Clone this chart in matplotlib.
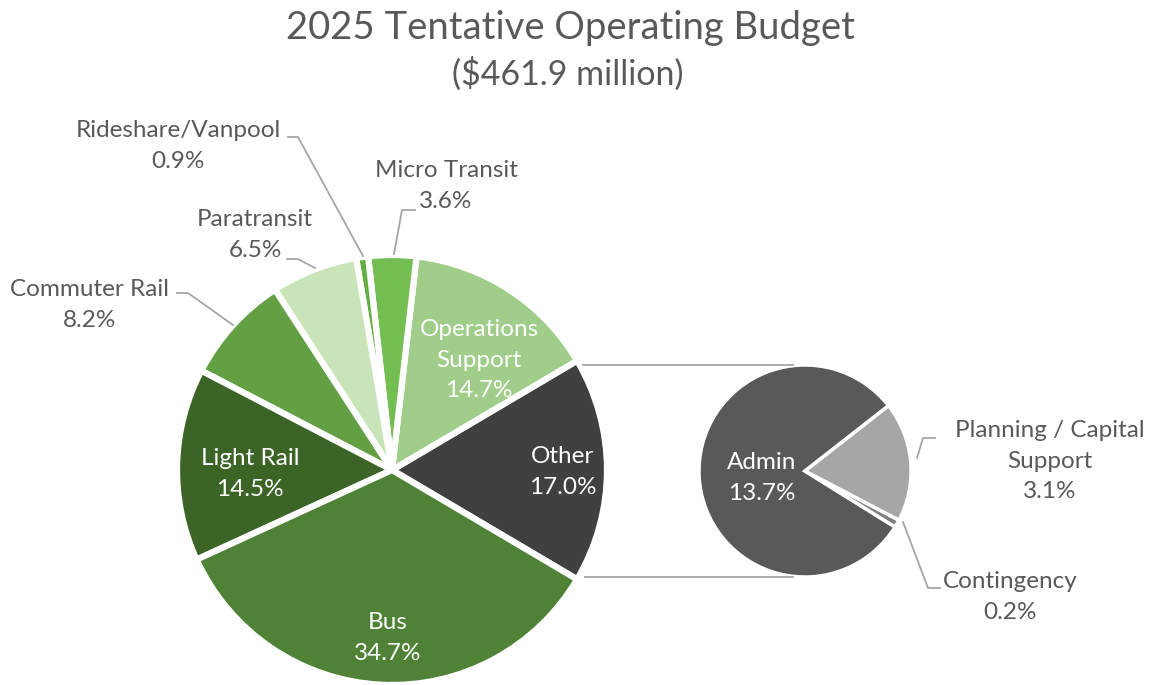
import matplotlib
matplotlib.use("Agg")
import matplotlib.pyplot as plt
import numpy as np

# ---- data ----
title = "2025 Tentative Operating Budget"
subtitle = "($461.9 million)"
main_labels = ["Other", "Operations\nSupport", "Micro Transit", "Rideshare/Vanpool",
               "Paratransit", "Commuter Rail", "Light Rail", "Bus"]
main_values = [17.0, 14.7, 3.6, 0.9, 6.5, 8.2, 14.5, 34.7]
sub_labels = ["Admin", "Contingency", "Planning / Capital\nSupport"]
sub_values = [13.7, 0.2, 3.1]

# ---- style ----
main_colors = ["#404040", "#a0cd8a", "#74bd50", "#65ad42", "#c8e4b8",
               "#62a043", "#3b6426", "#4f8236"]
sub_colors = ["#595959", "#7f7f7f", "#a6a6a6"]
txt_gray = "#595959"
line_gray = "#a6a6a6"
FONT = ["Lato", "DejaVu Sans"]
plt.rcParams['font.family'] = FONT

W, H = 1152, 685
def Y(p):
    return H - p

fig = plt.figure(figsize=(W / 100, H / 100), dpi=100)
ax = fig.add_axes([0, 0, 1, 1])

mc = (392, Y(470)); mr = 215
sc = (805, Y(471)); sr = 106

other_frac = main_values[0] / sum(main_values) * 360
start = -other_frac / 2
ax.pie(main_values, colors=main_colors, startangle=start, counterclock=True,
       center=mc, radius=mr, wedgeprops=dict(edgecolor="white", linewidth=4.5))

ax.pie(sub_values, colors=sub_colors, startangle=38, counterclock=True,
       center=sc, radius=sr, explode=[0, 0, 0.1],
       wedgeprops=dict(edgecolor="white", linewidth=2.5))

ax.set_xlim(0, W); ax.set_ylim(0, H)
ax.set_aspect("auto")
ax.axis("off")

# connector lines (horizontal, tangent to secondary pie)
a = np.deg2rad(other_frac / 2)
x0 = mc[0] + mr * np.cos(a) + 6
ax.plot([x0, sc[0] - 12], [sc[1] + sr, sc[1] + sr], color=line_gray, lw=1.3)
ax.plot([x0 + 2, sc[0] - 12], [sc[1] - sr, sc[1] - sr], color=line_gray, lw=1.3)

# titles
ax.text(571, Y(28), title, ha="center", va="center", fontsize=27.5, color=txt_gray)
ax.text(568, Y(74), subtitle, ha="center", va="center", fontsize=24.5, color=txt_gray)

fs = 17.5
def lab(name, val, x, y, color=txt_gray):
    ax.text(x, Y(y), f"{name}\n{val:.1f}%", ha="center", va="center",
            fontsize=fs, color=color, linespacing=1.55)

# inside labels (white)
lab(main_labels[0], main_values[0], 563, 472, "white")
lab(main_labels[1], main_values[1], 479, 360, "white")
lab(main_labels[6], main_values[6], 250, 474, "white")
lab(main_labels[7], main_values[7], 388, 638, "white")
lab(sub_labels[0], sub_values[0], 762, 478, "white")
# outside labels
lab(main_labels[2], main_values[2], 446, 186)
lab(main_labels[3], main_values[3], 178, 146)
lab(main_labels[4], main_values[4], 255, 235)
lab(main_labels[5], main_values[5], 90, 305)
lab(sub_labels[2], sub_values[2], 1050, 461)
lab(sub_labels[1], sub_values[1], 1010, 597)

# leader lines
def leader(pts):
    xs = [p[0] for p in pts]; ys = [Y(p[1]) for p in pts]
    ax.plot(xs, ys, color=line_gray, lw=1.3)

leader([(288, 137), (298, 137), (363, 256)])
leader([(415, 210), (402, 210), (394, 254)])
leader([(287, 259), (298, 259), (315, 268)])
leader([(177, 293), (188, 293), (233, 325)])
leader([(935, 438), (923, 438), (917, 458)])
leader([(903, 522), (928, 588), (940, 588)])

fig.savefig("out.png", dpi=100)
